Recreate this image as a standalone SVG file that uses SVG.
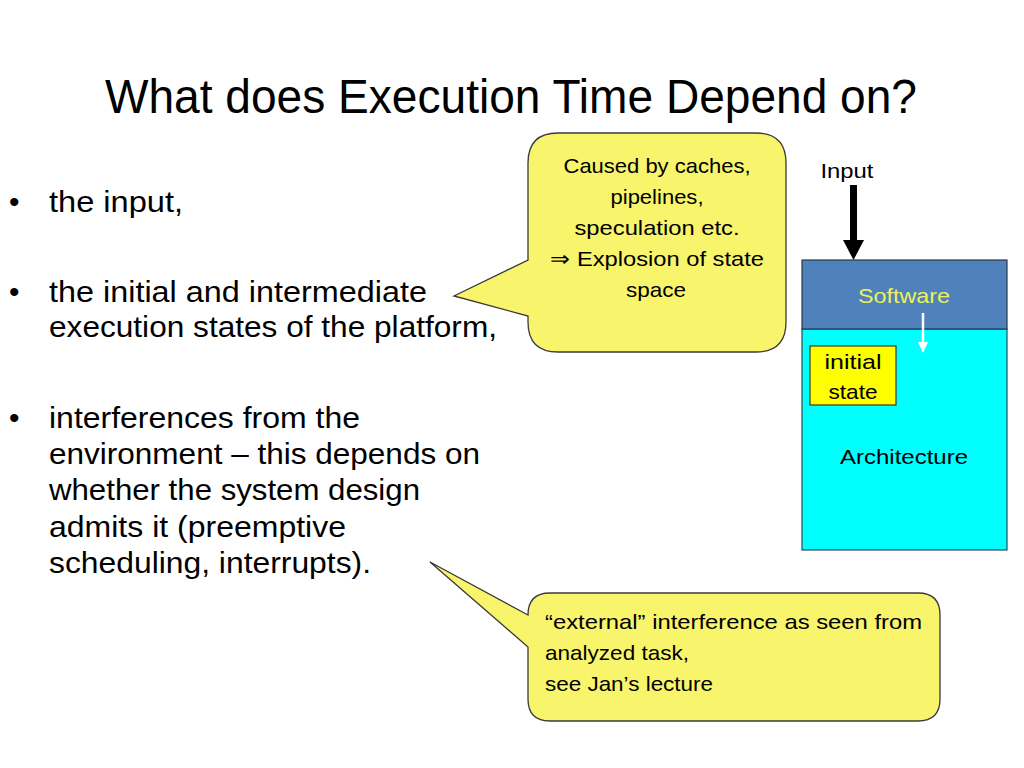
<svg xmlns="http://www.w3.org/2000/svg" width="1024" height="768" viewBox="0 0 1024 768">
<defs>
<style>
text{font-family:"Liberation Sans",Arial,sans-serif;fill:#000}
.title{font-size:48px}
.b{font-size:30px}
.c1{font-size:21px;text-anchor:middle}
.c2{font-size:21px}
.sm{font-size:21px;text-anchor:middle}
.callout{fill:#F8F46B;stroke:#3a3a3a;stroke-width:1.3}
</style>
</defs>
<rect width="1024" height="768" fill="#fff"/>

<g id="title">
<text class="title" x="105" y="113" textLength="812" lengthAdjust="spacingAndGlyphs">What does Execution Time Depend on?</text>
</g>

<g id="bullets">
<text class="b" x="9" y="212">•</text>
<text class="b" x="49" y="212" textLength="134" lengthAdjust="spacingAndGlyphs">the input,</text>
<text class="b" x="9" y="302">•</text>
<text class="b" x="49" y="302" textLength="378" lengthAdjust="spacingAndGlyphs">the initial and intermediate</text>
<text class="b" x="49" y="337" textLength="448" lengthAdjust="spacingAndGlyphs">execution states of the platform,</text>
<text class="b" x="9" y="428">•</text>
<text class="b" x="49" y="428" textLength="311" lengthAdjust="spacingAndGlyphs">interferences from the</text>
<text class="b" x="49" y="464" textLength="431" lengthAdjust="spacingAndGlyphs">environment – this depends on</text>
<text class="b" x="49" y="500" textLength="371" lengthAdjust="spacingAndGlyphs">whether the system design</text>
<text class="b" x="49" y="537" textLength="297" lengthAdjust="spacingAndGlyphs">admits it (preemptive</text>
<text class="b" x="49" y="573" textLength="322" lengthAdjust="spacingAndGlyphs">scheduling, interrupts).</text>
</g>

<g id="callout-states">
<path class="callout" d="M558,133 H756 Q786,133 786,163 V322 Q786,352 756,352 H558 Q528,352 528,322 V316 L454,296 L528,260 V163 Q528,133 558,133 Z"/>
<text class="c1" x="657" y="173" textLength="187" lengthAdjust="spacingAndGlyphs">Caused by caches,</text>
<text class="c1" x="657" y="204" textLength="93" lengthAdjust="spacingAndGlyphs">pipelines,</text>
<text class="c1" x="657" y="235" textLength="165" lengthAdjust="spacingAndGlyphs">speculation etc.</text>
<text class="c1" x="657" y="266" textLength="214" lengthAdjust="spacingAndGlyphs">⇒ Explosion of state</text>
<text class="c1" x="656" y="297" textLength="60" lengthAdjust="spacingAndGlyphs">space</text>
</g>

<g id="callout-external">
<path class="callout" d="M550,593 H918 Q940,593 940,615 V699 Q940,721 918,721 H550 Q528,721 528,699 V647 L430,562 L528,615 Q528,593 550,593 Z"/>
<text class="c2" x="545" y="629" textLength="377" lengthAdjust="spacingAndGlyphs">“external” interference as seen from</text>
<text class="c2" x="545" y="660" textLength="144" lengthAdjust="spacingAndGlyphs">analyzed task,</text>
<text class="c2" x="545" y="691" textLength="168" lengthAdjust="spacingAndGlyphs">see Jan’s lecture</text>
</g>

<g id="architecture">
<rect x="802" y="329" width="205" height="221" fill="#00FFFF" stroke="#2a4a5a" stroke-width="1.2"/>
<text class="sm" x="904" y="464" textLength="128" lengthAdjust="spacingAndGlyphs">Architecture</text>
</g>

<g id="software">
<rect x="802" y="260" width="205" height="69" fill="#4F81BD" stroke="#2a3a4a" stroke-width="1.2"/>
<text class="sm" x="904" y="303" style="fill:#EEF05A" textLength="92" lengthAdjust="spacingAndGlyphs">Software</text>
</g>

<g id="initial-state">
<rect x="810" y="346" width="86" height="59" fill="#FFFF00" stroke="#3a3a1a" stroke-width="1.2"/>
<text class="sm" x="853" y="369" textLength="57" lengthAdjust="spacingAndGlyphs">initial</text>
<text class="sm" x="853" y="399" textLength="49" lengthAdjust="spacingAndGlyphs">state</text>
</g>

<g id="input">
<text class="sm" x="847" y="178" textLength="53" lengthAdjust="spacingAndGlyphs">Input</text>
</g>

<g id="connectors">
<line x1="853.5" y1="185" x2="853.5" y2="241" stroke="#000" stroke-width="7"/>
<path d="M843,240 L864,240 L853.5,260 Z" fill="#000"/>
<line x1="923" y1="313" x2="923" y2="345" stroke="#fff" stroke-width="2.5"/>
<path d="M918,342 L928,342 L923,353 Z" fill="#fff"/>
</g>
</svg>
